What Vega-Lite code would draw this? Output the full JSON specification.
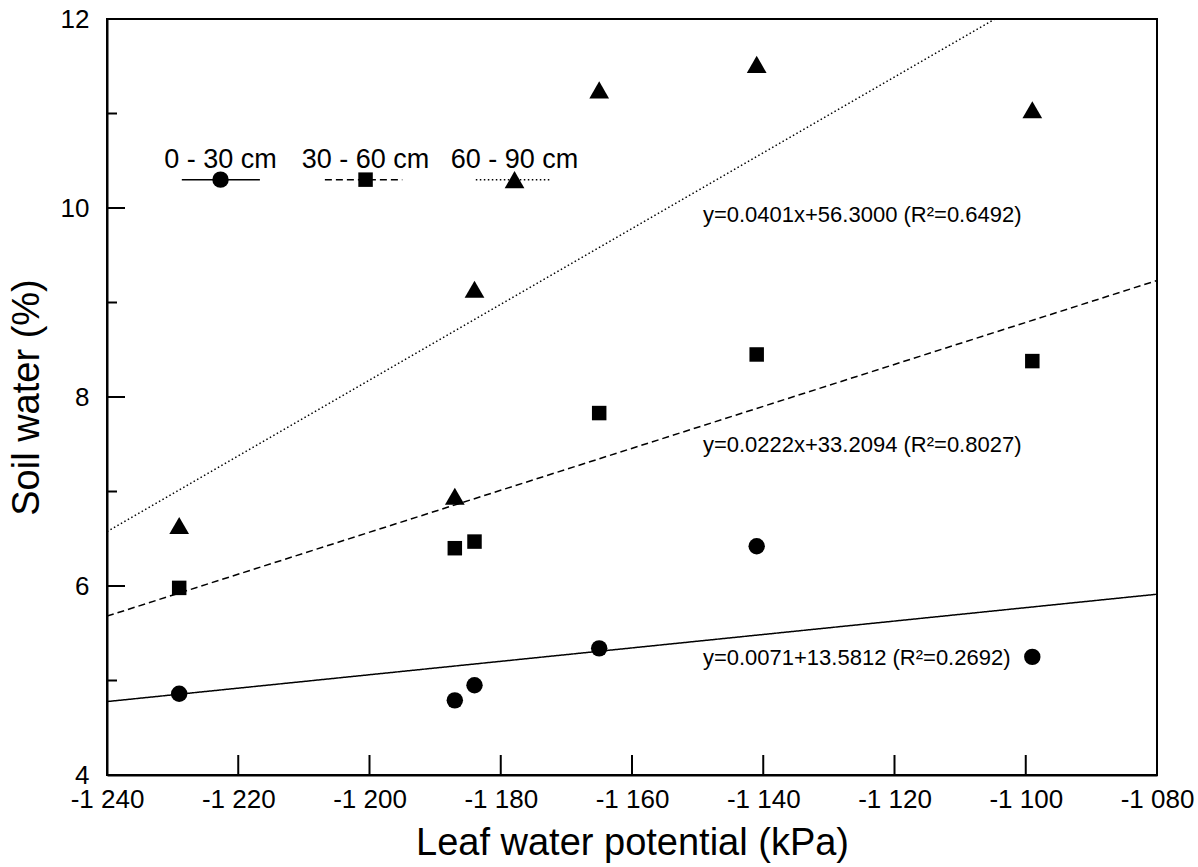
{
  "$schema": "https://vega.github.io/schema/vega-lite/v6.json",
  "width": 1050,
  "height": 756,
  "autosize": {"type": "none"},
  "padding": {"left": 107, "top": 19, "right": 41, "bottom": 92},
  "background": "white",
  "config": {
    "font": "Liberation Sans",
    "view": {"stroke": "black", "strokeWidth": 2},
    "axis": {
      "grid": false,
      "domainColor": "black",
      "domainWidth": 2,
      "labelColor": "black",
      "titleColor": "black",
      "labelFont": "Liberation Sans",
      "titleFont": "Liberation Sans",
      "labelFontSize": 26,
      "titleFontSize": 38,
      "titleFontWeight": "normal",
      "labelOverlap": false,
      "labelFlush": false
    }
  },
  "resolve": {"axis": {"x": "independent", "y": "independent"}},
  "datasets": {
    "points": [
      {"series": "0 - 30 cm", "x": -1229, "y": 4.86},
      {"series": "0 - 30 cm", "x": -1187, "y": 4.79},
      {"series": "0 - 30 cm", "x": -1184, "y": 4.95},
      {"series": "0 - 30 cm", "x": -1165, "y": 5.34},
      {"series": "0 - 30 cm", "x": -1141, "y": 6.42},
      {"series": "0 - 30 cm", "x": -1099, "y": 5.25},
      {"series": "30 - 60 cm", "x": -1229, "y": 5.98},
      {"series": "30 - 60 cm", "x": -1187, "y": 6.40},
      {"series": "30 - 60 cm", "x": -1184, "y": 6.47},
      {"series": "30 - 60 cm", "x": -1165, "y": 7.83},
      {"series": "30 - 60 cm", "x": -1141, "y": 8.45},
      {"series": "30 - 60 cm", "x": -1099, "y": 8.38},
      {"series": "60 - 90 cm", "x": -1229, "y": 6.64},
      {"series": "60 - 90 cm", "x": -1187, "y": 6.95},
      {"series": "60 - 90 cm", "x": -1184, "y": 9.14},
      {"series": "60 - 90 cm", "x": -1165, "y": 11.25},
      {"series": "60 - 90 cm", "x": -1141, "y": 11.52},
      {"series": "60 - 90 cm", "x": -1099, "y": 11.04},
      {"series": "0 - 30 cm", "x": -1222.7, "y": 10.30},
      {"series": "30 - 60 cm", "x": -1200.6, "y": 10.30},
      {"series": "60 - 90 cm", "x": -1177.9, "y": 10.30}
    ],
    "fits": [
      {"series": "0 - 30 cm", "x": -1240, "y": 4.777},
      {"series": "0 - 30 cm", "x": -1080, "y": 5.913},
      {"series": "30 - 60 cm", "x": -1240, "y": 5.681},
      {"series": "30 - 60 cm", "x": -1080, "y": 9.233},
      {"series": "60 - 90 cm", "x": -1240, "y": 6.576},
      {"series": "60 - 90 cm", "x": -1104.7, "y": 12}
    ],
    "keys": [
      {"series": "0 - 30 cm", "x": -1228.6, "x2": -1216.7, "y": 10.30},
      {"series": "30 - 60 cm", "x": -1206.8, "x2": -1195.0, "y": 10.30},
      {"series": "60 - 90 cm", "x": -1183.8, "x2": -1172.5, "y": 10.30}
    ],
    "keylabels": [
      {"label": "0 - 30 cm", "x": -1222.7, "y": 10.51},
      {"label": "30 - 60 cm", "x": -1200.6, "y": 10.51},
      {"label": "60 - 90 cm", "x": -1177.9, "y": 10.51}
    ],
    "equations": [
      {"label": "y=0.0401x+56.3000 (R²=0.6492)", "x": -1149.2, "y": 9.93},
      {"label": "y=0.0222x+33.2094 (R²=0.8027)", "x": -1149.2, "y": 7.49},
      {"label": "y=0.0071+13.5812 (R²=0.2692)", "x": -1149.2, "y": 5.24}
    ],
    "xticks": [
      {"v": -1220}, {"v": -1200}, {"v": -1180}, {"v": -1160}, {"v": -1140}, {"v": -1120}, {"v": -1100}
    ],
    "ymajor": [
      {"v": 6}, {"v": 8}, {"v": 10}
    ],
    "yminor": [
      {"v": 5}, {"v": 7}, {"v": 9}, {"v": 11}
    ]
  },
  "layer": [
    {
      "data": {"name": "fits"},
      "mark": {"type": "line", "color": "black", "strokeWidth": 1.5, "clip": true},
      "encoding": {
        "x": {
          "field": "x", "type": "quantitative",
          "scale": {"domain": [-1240, -1080], "nice": false, "zero": false},
          "axis": {
            "orient": "bottom",
            "values": [-1240, -1220, -1200, -1180, -1160, -1140, -1120, -1100, -1080],
            "ticks": false,
            "labelPadding": 11,
            "labelExpr": "'-' + replace(format(abs(datum.value), ','), ',', ' ')",
            "title": "Leaf water potential (kPa)",
            "titlePadding": 12
          }
        },
        "y": {
          "field": "y", "type": "quantitative",
          "scale": {"domain": [4, 12], "nice": false, "zero": false},
          "axis": {
            "orient": "left",
            "values": [4, 6, 8, 10, 12],
            "ticks": false,
            "labelPadding": 18,
            "labelExpr": "'' + datum.value",
            "title": "Soil water (%)",
            "titlePadding": 14
          }
        },
        "strokeDash": {
          "field": "series", "type": "nominal",
          "scale": {"domain": ["0 - 30 cm", "30 - 60 cm", "60 - 90 cm"], "range": [[1, 0], [7, 4], [1.5, 2.5]]},
          "legend": null
        }
      }
    },
    {
      "data": {"name": "xticks"},
      "mark": {"type": "tick", "orient": "vertical", "size": 20, "thickness": 2, "yOffset": -10, "color": "black", "opacity": 1},
      "encoding": {
        "x": {"field": "v", "type": "quantitative", "axis": null},
        "y": {"datum": 4, "type": "quantitative", "axis": null}
      }
    },
    {
      "data": {"name": "ymajor"},
      "mark": {"type": "tick", "orient": "horizontal", "size": 18, "thickness": 2, "xOffset": 9, "color": "black", "opacity": 1},
      "encoding": {
        "y": {"field": "v", "type": "quantitative", "axis": null},
        "x": {"datum": -1240, "type": "quantitative", "axis": null}
      }
    },
    {
      "data": {"name": "yminor"},
      "mark": {"type": "tick", "orient": "horizontal", "size": 10, "thickness": 2, "xOffset": 5, "color": "black", "opacity": 1},
      "encoding": {
        "y": {"field": "v", "type": "quantitative", "axis": null},
        "x": {"datum": -1240, "type": "quantitative", "axis": null}
      }
    },
    {
      "data": {"name": "keys"},
      "mark": {"type": "rule", "color": "black", "strokeWidth": 1.5},
      "encoding": {
        "x": {"field": "x", "type": "quantitative", "axis": null},
        "x2": {"field": "x2"},
        "y": {"field": "y", "type": "quantitative", "axis": null},
        "strokeDash": {
          "field": "series", "type": "nominal",
          "scale": {"domain": ["0 - 30 cm", "30 - 60 cm", "60 - 90 cm"], "range": [[1, 0], [7, 4], [1.5, 2.5]]},
          "legend": null
        }
      }
    },
    {
      "data": {"name": "points"},
      "transform": [{"filter": "datum.series === '0 - 30 cm'"}],
      "mark": {"type": "point", "shape": "circle", "size": 270, "filled": true, "color": "black", "opacity": 1},
      "encoding": {
        "x": {"field": "x", "type": "quantitative", "axis": null},
        "y": {"field": "y", "type": "quantitative", "axis": null}
      }
    },
    {
      "data": {"name": "points"},
      "transform": [{"filter": "datum.series === '30 - 60 cm'"}],
      "mark": {"type": "point", "shape": "square", "size": 210, "filled": true, "color": "black", "opacity": 1},
      "encoding": {
        "x": {"field": "x", "type": "quantitative", "axis": null},
        "y": {"field": "y", "type": "quantitative", "axis": null}
      }
    },
    {
      "data": {"name": "points"},
      "transform": [{"filter": "datum.series === '60 - 90 cm'"}],
      "mark": {"type": "point", "shape": "triangle-up", "size": 390, "filled": true, "color": "black", "opacity": 1},
      "encoding": {
        "x": {"field": "x", "type": "quantitative", "axis": null},
        "y": {"field": "y", "type": "quantitative", "axis": null}
      }
    },
    {
      "data": {"name": "keylabels"},
      "mark": {"type": "text", "align": "center", "baseline": "middle", "fontSize": 27, "font": "Liberation Sans", "color": "black"},
      "encoding": {
        "x": {"field": "x", "type": "quantitative", "axis": null},
        "y": {"field": "y", "type": "quantitative", "axis": null},
        "text": {"field": "label"}
      }
    },
    {
      "data": {"name": "equations"},
      "mark": {"type": "text", "align": "left", "baseline": "middle", "fontSize": 22, "font": "Liberation Sans", "color": "black"},
      "encoding": {
        "x": {"field": "x", "type": "quantitative", "axis": null},
        "y": {"field": "y", "type": "quantitative", "axis": null},
        "text": {"field": "label"}
      }
    }
  ]
}
